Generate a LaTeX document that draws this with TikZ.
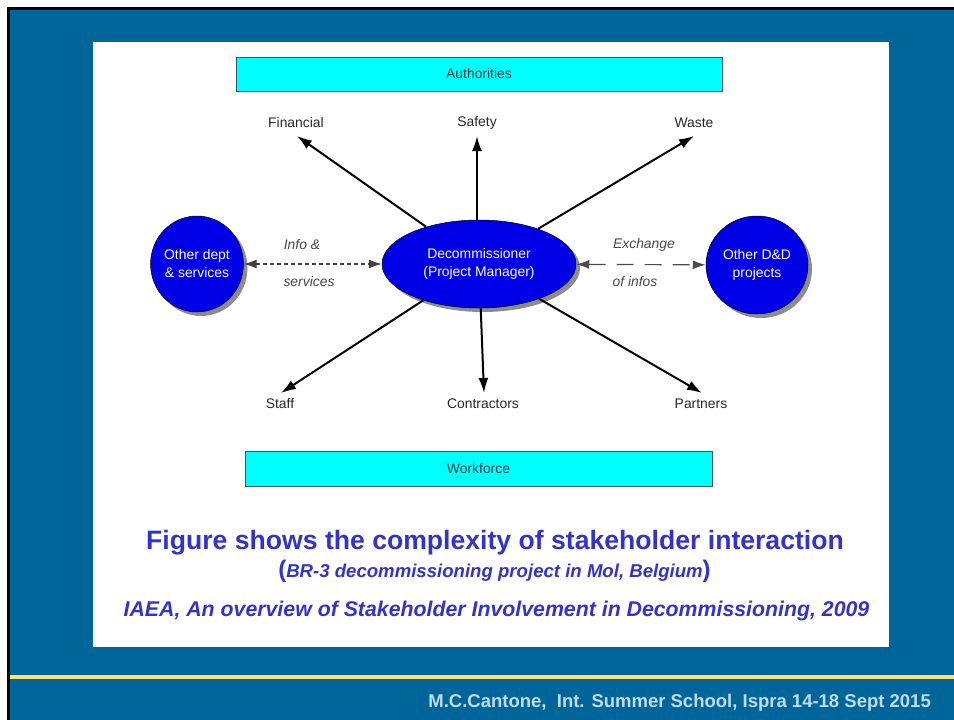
\documentclass[tikz,border=0pt]{standalone}
\usepackage{fontspec}
\setmainfont{Liberation Sans}
\usetikzlibrary{arrows.meta,shadows,shapes.geometric}
\definecolor{slideblue}{RGB}{0,102,153}
\definecolor{lineyellow}{RGB}{255,224,112}
\definecolor{ellblue}{RGB}{0,0,230}
\definecolor{boxcyan}{RGB}{0,255,255}
\definecolor{boxedge}{RGB}{50,90,95}
\definecolor{boxtext}{RGB}{30,55,60}
\definecolor{lblgray}{RGB}{40,40,40}
\definecolor{capblue}{RGB}{51,51,204}
\definecolor{foottext}{RGB}{192,220,232}
\begin{document}
\begin{tikzpicture}[x=1pt,y=-1pt,
  dfont/.style={font=\fontsize{13.9}{18}\selectfont},
  blueell/.style={ellipse, draw=black, line width=0.5pt, fill=ellblue, text=white, align=center, inner sep=0pt, dfont,
     drop shadow={shadow xshift=4pt, shadow yshift=-4pt, fill=black!45, opacity=1}},
  cyanbox/.style={rectangle, draw=boxedge, line width=0.8pt, fill=boxcyan, text=boxtext, inner sep=0pt, dfont},
  lbl/.style={text=lblgray, inner sep=1pt, dfont},
  ilbl/.style={text=lblgray!85, inner sep=1pt, font=\fontsize{13.9}{18}\selectfont\itshape},
  arr/.style={draw=black, line width=2pt, -{Latex[length=15pt,width=10pt]}},
  dotarr/.style={draw=black!75, line width=1.1pt, dash pattern=on 4pt off 3pt, {Latex[length=13pt,width=9pt]}-{Latex[length=13pt,width=9pt]}},
  longarr/.style={draw=black!70, line width=1.2pt, dash pattern=on 17pt off 11pt, {Latex[length=13pt,width=9pt]}-{Latex[length=13pt,width=9pt]}},
  capt/.style={text=capblue, inner sep=0pt}
]
\useasboundingbox (0,0) rectangle (954,720);
% slide background
\fill[white] (0,0) rectangle (954,720);
\fill[black] (7,7) rectangle (954,720);
\fill[slideblue] (9.5,9.5) rectangle (954,720);
\fill[lineyellow] (9.5,675) rectangle (954,679);
\fill[white] (93,42) rectangle (889,647);

% boxes
\node[cyanbox, minimum width=486pt, minimum height=34pt] (auth) at (479,74) {Authorities};
\node[cyanbox, minimum width=467pt, minimum height=35pt] (work) at (478.5,468.5) {Workforce};

% ellipses
\node[blueell, minimum width=194pt, minimum height=88pt] (dec) at (479,264) {Decommissioner\\(Project Manager)};
\node[blueell, minimum width=86pt, minimum height=96pt] (dept) at (197,264) {Other dept\\\& services};
\node[blueell, minimum width=102pt, minimum height=98pt] (dd) at (757,265) {Other D\&D\\projects};

% labels
\node[lbl] (fin) at (296,123) {Financial};
\node[lbl] (saf) at (477,123) {Safety};
\node[lbl] (was) at (694,123) {Waste};
\node[lbl] (sta) at (280,404) {Staff};
\node[lbl] (con) at (483,404) {Contractors};
\node[lbl] (par) at (701,404) {Partners};

% arrow tips
\coordinate (tF) at (297,136);
\coordinate (tS) at (477,136);
\coordinate (tW) at (694,136);
\coordinate (tSt) at (281,393);
\coordinate (tC) at (484,393);
\coordinate (tP) at (702,393);

\draw[arr] (dec) -- (tF);
\draw[arr] (dec.north -| tS) -- (tS);
\draw[arr] (dec) -- (tW);
\draw[arr] (dec) -- (tSt);
\draw[arr] (dec) -- (tC);
\draw[arr] (dec) -- (tP);

% dashed exchanges
\draw[dotarr] (dept) -- (dec);
\draw[longarr] (dec) -- (dd);
\node[ilbl] (info) at (302,245) {Info \&};
\node[ilbl] (serv) at (309,282) {services};
\node[ilbl] (exch) at (644,245) {Exchange};
\node[ilbl] (ofin) at (635,282) {of infos};

% caption
\node[capt, font=\fontsize{26.6}{30}\selectfont\bfseries] (cap1) at (495,542.5) {Figure shows the complexity of stakeholder interaction};
\node[capt, font=\fontsize{18.6}{20}\selectfont\bfseries] (cap2) at (494.5,571.5) {{\fontsize{24}{24}\selectfont(}\textit{BR-3 decommissioning project in Mol, Belgium}{\fontsize{24}{24}\selectfont)}};
\node[capt, font=\fontsize{21.3}{24}\selectfont\bfseries\itshape] (cap3) at (496.5,611) {IAEA, An overview of Stakeholder Involvement in Decommissioning, 2009};

% footer
\node[text=foottext, inner sep=0pt, anchor=east, font=\fontsize{18.5}{20}\selectfont\bfseries] (foot) at (931,703) {M.C.Cantone,\ \ Int. Summer School, Ispra 14-18 Sept 2015};
\end{tikzpicture}
\end{document}
